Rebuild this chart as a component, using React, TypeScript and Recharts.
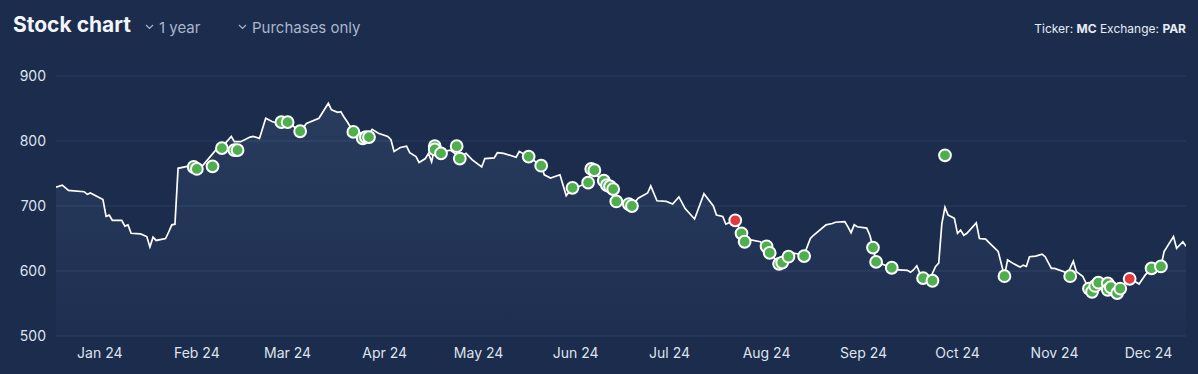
import React from 'react';
import { ComposedChart, Area, Scatter, XAxis, YAxis, CartesianGrid } from 'recharts';

// day offsets are counted from 1 Jan 2024 (negative = Dec 2023)
const priceDays = [
  -14, -12, -10, -5, -4, -3, 1, 2, 3, 4, 7, 8, 9, 10, 13, 15, 16, 17, 18, 21, 22, 23, 24, 25, 29,
  33, 37, 40, 42, 43, 45, 48, 49, 51, 53, 55, 57, 61, 64, 66, 70, 73, 74, 76, 77, 78, 79, 81, 83, 85,
  87, 89, 92, 93, 94, 96, 98, 99, 101, 102, 104, 105, 106, 107, 110, 112, 115, 117, 119, 122, 123, 126, 127, 129, 133,
  134, 137, 141, 142, 144, 147, 149, 151, 153, 156, 157, 159, 161, 162, 164, 165, 167, 169, 170, 172, 175, 176, 178, 181, 183,
  185, 187, 190, 193, 196, 197, 199, 200, 203, 205, 206, 208, 211, 213, 214, 216, 217, 218, 220, 221, 225, 227, 228, 232, 234,
  235, 238, 239, 240, 241, 242, 245, 246, 247, 248, 253, 254, 258, 259, 260, 261, 262, 263, 265, 267, 268, 269, 270, 271, 273,
  274, 275, 276, 277, 280, 281, 283, 284, 287, 289, 290, 292, 294, 295, 296, 297, 299, 301, 302, 304, 305, 308, 309, 311, 312,
  314, 316, 318, 321, 323, 326, 329, 332, 334, 336, 339, 340, 343, 344, 346, 347,
];
const priceValues = [
  729, 732, 724, 722, 718, 720, 710, 684, 686, 678, 678, 669, 671, 658, 657, 653, 637, 652, 647, 650, 660, 671, 672, 758, 762,
  763, 786, 796, 807, 799, 799, 806, 807, 804, 835, 830, 827, 826, 814, 827, 835, 858, 848, 844, 845, 837, 830, 814, 806, 804,
  818, 812, 807, 802, 784, 790, 792, 782, 776, 767, 773, 781, 768, 790, 784, 786, 775, 781, 771, 760, 773, 774, 782, 781, 775,
  784, 776, 762, 748, 743, 748, 716, 728, 730, 736, 757, 746, 740, 733, 726, 707, 705, 702, 700, 712, 720, 731, 708, 707, 703,
  714, 696, 680, 719, 700, 686, 684, 672, 679, 658, 646, 648, 645, 638, 628, 617, 611, 613, 622, 628, 625, 650, 655, 671, 673,
  675, 676, 668, 659, 671, 668, 666, 655, 637, 614, 605, 602, 601, 598, 602, 608, 596, 589, 586, 607, 612, 673, 698, 686, 681,
  658, 663, 655, 658, 674, 650, 649, 644, 630, 592, 617, 611, 606, 609, 607, 622, 623, 626, 622, 604, 604, 599, 594, 615, 599,
  592, 572, 580, 578, 572, 574, 589, 580, 594, 604, 607, 630, 653, 635, 645, 638,
];

const buyDays = [
  30, 31, 36, 39, 43, 44, 58, 60, 64, 81, 84, 85, 86, 107, 107, 109, 114, 115, 137, 141, 151, 156, 157, 158, 161,
  162, 163, 164, 165, 169, 170, 205, 206, 213, 214, 217, 218, 220, 225, 247, 248, 253, 263, 266, 270, 289, 310, 316, 317, 318,
  319, 322, 322, 323, 325, 326, 336, 339,
];
const buyPrices = [
  760, 757, 761, 789, 786, 786, 829, 829, 815, 814, 804, 806, 806, 792, 787, 781, 792, 773, 776, 762, 728, 736, 757, 755, 739,
  732, 730, 726, 707, 703, 700, 658, 645, 638, 628, 611, 613, 622, 623, 636, 614, 605, 589, 585, 778, 592, 592, 573, 568, 577,
  582, 581, 571, 575, 566, 573, 604, 607,
];

const sellDays = [203, 329];
const sellPrices = [678, 588];

const monthDays = [0, 31, 60, 91, 121, 152, 182, 213, 244, 274, 305, 335];
const monthLabels = ['Jan 24', 'Feb 24', 'Mar 24', 'Apr 24', 'May 24', 'Jun 24', 'Jul 24', 'Aug 24', 'Sep 24', 'Oct 24', 'Nov 24', 'Dec 24'];
const priceTicks = [500, 600, 700, 800, 900];

const priceData = priceDays.map((day, i) => ({ day, price: priceValues[i] }));
const buyData = buyDays.map((day, i) => ({ day, price: buyPrices[i] }));
const sellData = sellDays.map((day, i) => ({ day, price: sellPrices[i] }));

const FONT = 'Inter, "Noto Sans", sans-serif';

const Dot = (color: string) => (props: any) => (
  <circle cx={props.cx} cy={props.cy} r={5.9} fill={color} stroke="#ffffff" strokeWidth={2} />
);

const Chevron = () => (
  <svg width={9} height={6} style={{ marginRight: 5, marginBottom: 3 }}>
    <path d="M1 1 L4.5 4.5 L8 1" fill="none" stroke="#aab6cc" strokeWidth={1.2} />
  </svg>
);

const App: React.FC = () => {
  return (
    <div style={{ position: 'absolute', left: 0, top: 0, width: 1198, height: 374, background: '#1b2c4d', fontFamily: FONT, overflow: 'hidden' }}>
      <div style={{ position: 'absolute', left: 13, top: 12, fontSize: 21, fontWeight: 700, color: '#f2f5fa', lineHeight: '26px' }}>
        Stock chart
      </div>
      <div style={{ position: 'absolute', left: 145, top: 18, fontSize: 15, color: '#aab6cc', lineHeight: '20px', display: 'flex', alignItems: 'center' }}>
        <Chevron />1 year
      </div>
      <div style={{ position: 'absolute', left: 238, top: 18, fontSize: 15, color: '#aab6cc', lineHeight: '20px', display: 'flex', alignItems: 'center' }}>
        <Chevron />Purchases only
      </div>
      <div style={{ position: 'absolute', right: 12, top: 21, fontSize: 12, color: '#e8ecf3', lineHeight: '16px' }}>
        Ticker: <b>MC</b> Exchange: <b>PAR</b>
      </div>
      <div style={{ position: 'absolute', left: 0, top: 0 }}>
        <ComposedChart width={1198} height={374} margin={{ top: 76, right: 12, bottom: 0, left: 0 }}>
          <defs>
            <linearGradient id="areaFill" x1="0" y1="0" x2="0" y2="1">
              <stop offset="0%" stopColor="#8aa3cf" stopOpacity={0.22} />
              <stop offset="100%" stopColor="#8aa3cf" stopOpacity={0.04} />
            </linearGradient>
          </defs>
          <CartesianGrid vertical={false} stroke="#2a3f63" strokeWidth={1} />
          <XAxis
            dataKey="day"
            type="number"
            domain={[-14, 347]}
            ticks={monthDays}
            interval={0}
            tickFormatter={(v: number) => monthLabels[monthDays.indexOf(v)]}
            axisLine={false}
            tickLine={false}
            tickSize={0}
            tickMargin={12}
            height={38}
            tick={{ fill: '#dfe4ec', fontSize: 14, fontFamily: FONT }}
            allowDataOverflow
          />
          <YAxis
            dataKey="price"
            type="number"
            domain={[500, 900]}
            ticks={priceTicks}
            axisLine={false}
            tickLine={false}
            tickSize={0}
            tickMargin={10}
            width={56}
            tick={{ fill: '#dfe4ec', fontSize: 14, fontFamily: FONT }}
          />
          <Area
            data={priceData}
            dataKey="price"
            type="linear"
            stroke="#ffffff"
            strokeWidth={1.7}
            fill="url(#areaFill)"
            isAnimationActive={false}
            dot={false}
            activeDot={false}
          />
          <Scatter data={buyData} dataKey="price" shape={Dot('#4fae4e')} isAnimationActive={false} />
          <Scatter data={sellData} dataKey="price" shape={Dot('#e0393e')} isAnimationActive={false} />
        </ComposedChart>
      </div>
    </div>
  );
};

export default App;
